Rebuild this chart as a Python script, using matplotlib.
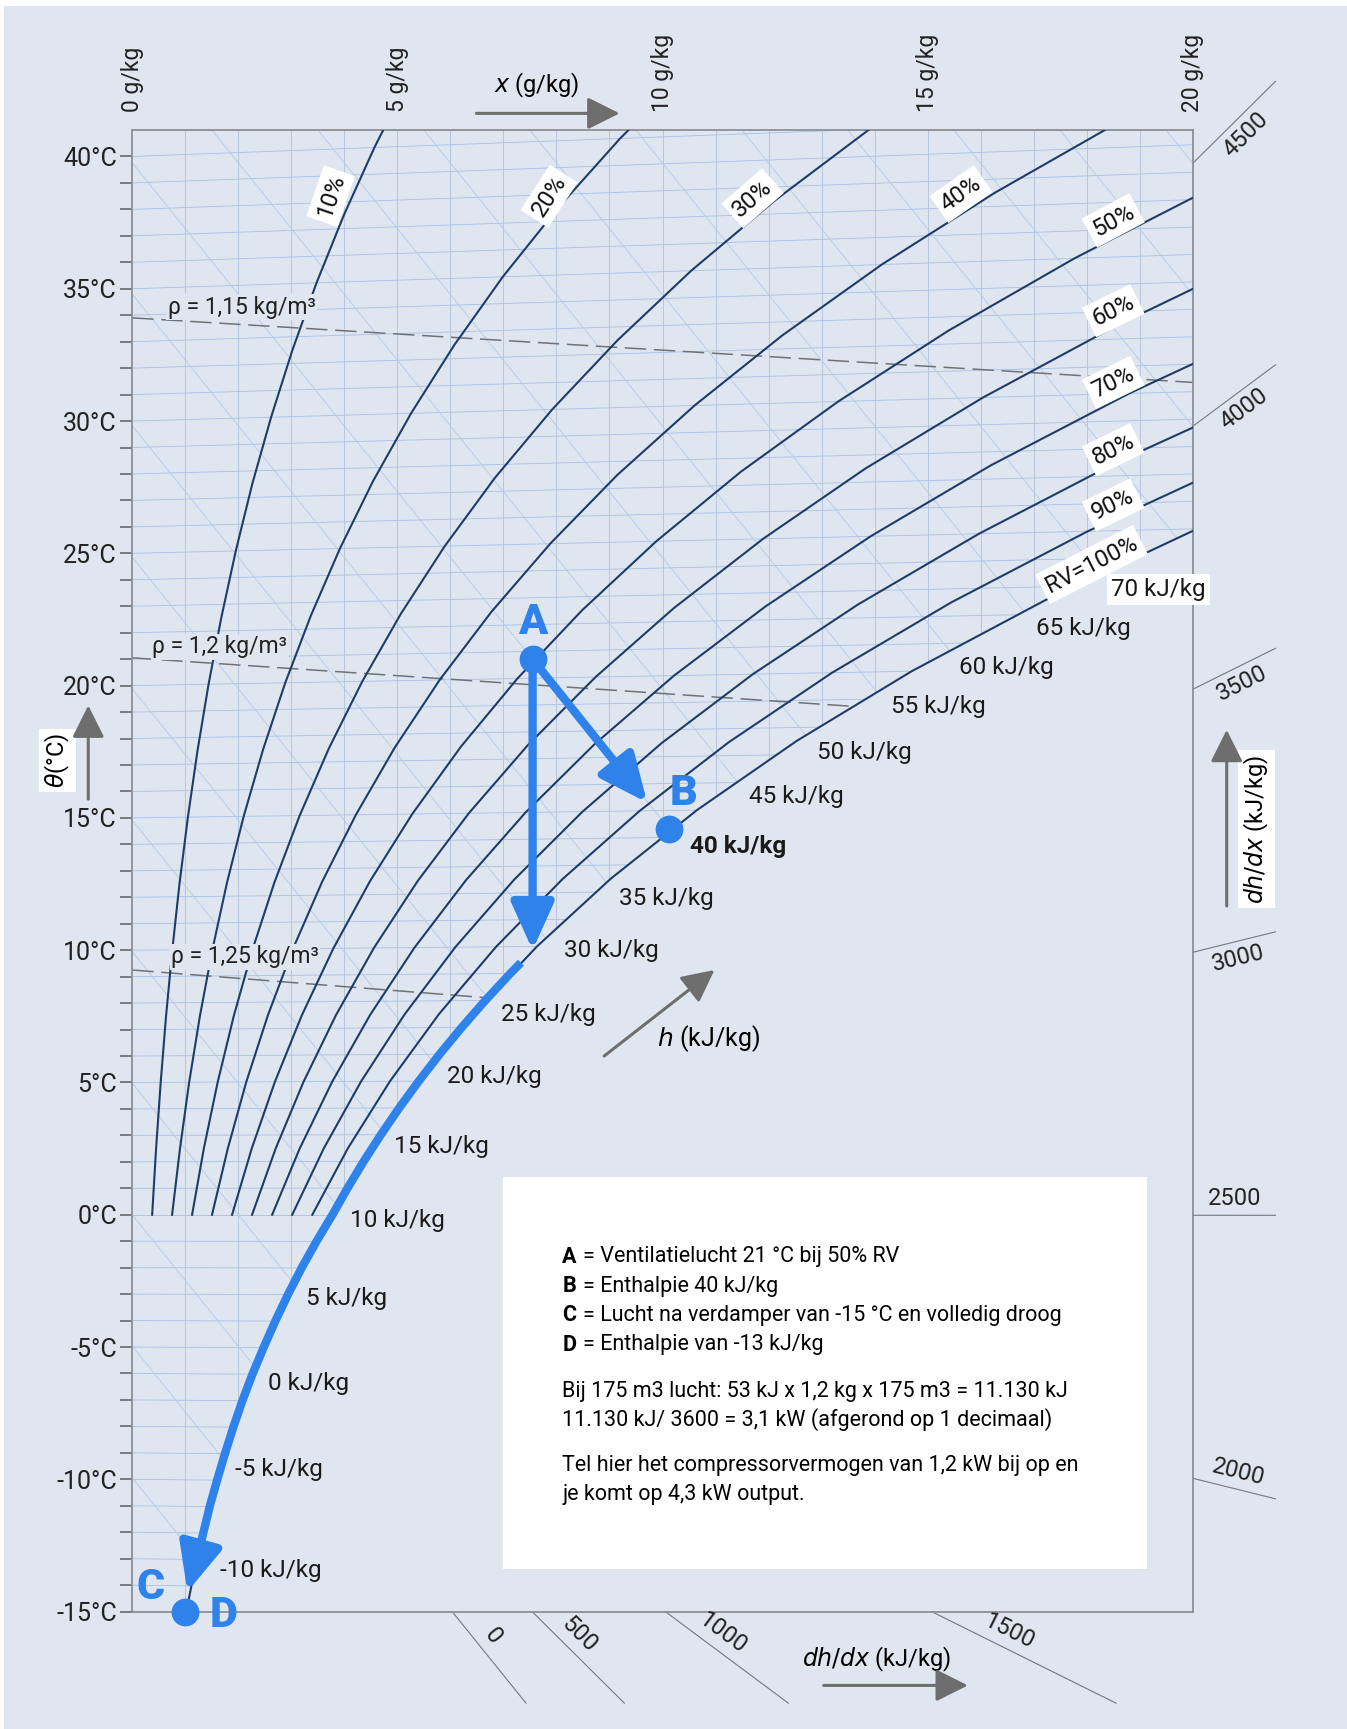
import math
import matplotlib.pyplot as plt
from matplotlib.patches import Polygon, Rectangle

plt.rcParams['font.family'] = ['Roboto', 'DejaVu Sans']

BG = '#dfe6f0'
NAVY = '#1f3c68'
BLUE = '#2f82ea'
GRAY = '#74787e'

# Mollier skew: chart height of an isotherm grows with moisture content
SKEW = 0.00185

# moisture content x (g/kg) of each RH curve, read at these temperatures
T_LEVELS = [0, 2.5, 5, 7.5, 10, 12.5, 15, 17.5, 20, 22.5, 25, 27.5, 30, 32.5, 35, 37.5, 40, 42.5]
X_RH10 = [0.375, 0.449, 0.536, 0.637, 0.755, 0.891, 1.049, 1.230, 1.439, 1.679, 1.952, 2.262, 2.618, 3.020, 3.475, 3.989, 4.566, 5.215]
X_RH20 = [0.751, 0.900, 1.073, 1.276, 1.512, 1.785, 2.101, 2.466, 2.885, 3.367, 3.916, 4.541, 5.258, 6.070, 6.988, 8.029, 9.200, 10.517]
X_RH30 = [1.128, 1.350, 1.611, 1.916, 2.270, 2.681, 3.157, 3.706, 4.338, 5.064, 5.893, 6.837, 7.920, 9.150, 10.541, 12.121, 13.903, 15.910]
X_RH40 = [1.504, 1.802, 2.150, 2.557, 3.031, 3.580, 4.217, 4.951, 5.797, 6.770, 7.882, 9.149, 10.605, 12.259, 14.135, 16.267, 18.677]
X_RH50 = [1.882, 2.254, 2.690, 3.199, 3.793, 4.482, 5.280, 6.201, 7.264, 8.486, 9.883, 11.478, 13.313, 15.400, 17.770, 20.468]
X_RH60 = [2.259, 2.706, 3.231, 3.843, 4.557, 5.386, 6.347, 7.456, 8.737, 10.211, 11.898, 13.825, 16.045, 18.572, 21.446]
X_RH70 = [2.638, 3.160, 3.772, 4.488, 5.323, 6.293, 7.417, 8.716, 10.217, 11.945, 13.925, 16.190, 18.800, 21.776]
X_RH80 = [3.016, 3.614, 4.315, 5.135, 6.091, 7.202, 8.491, 9.981, 11.704, 13.689, 15.966, 18.571, 21.579]
X_RH90 = [3.395, 4.068, 4.859, 5.782, 6.860, 8.114, 9.569, 11.252, 13.198, 15.443, 18.019, 20.971]
X_RH100 = [3.775, 4.524, 5.403, 6.432, 7.632, 9.028, 10.650, 12.527, 14.699, 17.206, 20.086]

# saturation over ice (below 0 °C)
T_ICE = [-15, -14, -13, -12, -11, -10, -9, -8, -7, -6, -5, -4, -3, -2, -1]
X_ICE = [1.016, 1.115, 1.223, 1.339, 1.460, 1.600, 1.748, 1.906, 2.077, 2.267, 2.476, 2.697, 2.936, 3.193, 3.474]

RH_LABELS = ['10%', '20%', '30%', '40%', '50%', '60%', '70%', '80%', '90%', 'RV=100%']
RH_LABEL_X = [3.74, 7.86, 11.70, 15.63, 18.50, 18.50, 18.50, 18.50, 18.50, 18.09]
RH_LABEL_Y = [38.50, 38.50, 38.42, 38.58, 37.58, 34.17, 31.46, 28.92, 26.83, 24.58]
RH_LABEL_ROT = [71, 57, 41, 35, 28, 26, 26, 26, 26, 27]

# enthalpy labels along the saturation curve
H_LABELS = [70, 65, 60, 55, 50, 45, 40, 35, 30, 25, 20, 15, 10, 5, 0, -5, -10]
H_LABEL_X = [18.46, 17.05, 15.59, 14.30, 12.91, 11.64, 10.52, 9.17, 8.15, 6.96, 5.93, 4.93, 4.10, 3.28, 2.56, 1.93, 1.66]
H_LABEL_Y = [23.62, 22.17, 20.67, 19.21, 17.46, 15.79, 13.92, 11.96, 10.00, 7.58, 5.21, 2.58, -0.21, -3.17, -6.38, -9.63, -13.46]

# density lines (chart coordinates of both ends)
RHO_LABELS = ['ρ = 1,15 kg/m³', 'ρ = 1,2 kg/m³', 'ρ = 1,25 kg/m³']
RHO_X0 = [0.0, 0.0, 0.0]
RHO_Y0 = [33.90, 21.05, 9.25]
RHO_X1 = [20.0, 13.64, 6.70]
RHO_Y1 = [31.46, 19.21, 8.20]
RHO_TEXT_X = [0.67, 0.37, 0.73]
RHO_TEXT_Y = [34.30, 21.46, 9.75]

# dh/dx protractor values
DHDX_RIGHT = [4500, 4000, 3500, 3000, 2500, 2000]
DHDX_BOTTOM = [0, 500, 1000, 1500]

# process points A, B, C/D and the cooling path along saturation
POINT_X = [7.55, 10.12, 1.00]
POINT_Y = [21.0, 14.58, -15.0]
A_TO_B_TIP = (9.71, 15.58)
A_DOWN_TIP = (7.55, 10.0)
PATH_T = [9.4, 9, 8, 7, 6, 5, 4, 3, 2, 1, 0, -1, -2, -3, -4, -5, -6, -7, -8, -9, -10, -11, -12, -12.5]
PATH_X = [7.33, 7.129, 6.657, 6.213, 5.795, 5.403, 5.034, 4.689, 4.364, 4.060, 3.775, 3.474,
          3.193, 2.936, 2.697, 2.476, 2.267, 2.077, 1.906, 1.748, 1.600, 1.460, 1.339, 1.278]
C_TIP = (1.04, -14.25)

LEGEND_KEYS = ['A', 'B', 'C', 'D']
LEGEND_TEXT = ['= Ventilatielucht 21 °C bij 50% RV',
               '= Enthalpie 40 kJ/kg',
               '= Lucht na verdamper van -15 °C en volledig droog',
               '= Enthalpie van -13 kJ/kg']
NOTE_LINES = ['Bij 175 m3 lucht: 53 kJ x 1,2 kg x 175 m3 = 11.130 kJ',
              '11.130 kJ/ 3600 = 3,1 kW (afgerond op 1 decimaal)',
              'Tel hier het compressorvermogen van 1,2 kW bij op en',
              'je komt op 4,3 kW output.']


def chart_y(t, x):
    return t * (1 + SKEW * x)


def h_line_y(h, x):
    return (h - 2.501 * x) / 1.006


def dhdx_slope(q):
    return (q / 1000 - 2.501) / 1.006


fig = plt.figure(figsize=(13.47, 17.29), dpi=100, facecolor='white')
fig.patches.append(Rectangle((4 / 1347, 0), 1, 1 - 6 / 1729, transform=fig.transFigure,
                             facecolor=BG, edgecolor='none', zorder=-10))
ax = fig.add_axes([0.0982, 0.0679, 0.7873, 0.8569])
ax.set_facecolor(BG)
ax.set_xlim(0, 20)
ax.set_ylim(-15, 41)

# saturation curve (ice + water) and clip region for the grid
sat_x = X_ICE + X_RH100
sat_t = T_ICE + T_LEVELS[:len(X_RH100)]
sat_y = [chart_y(t, x) for t, x in zip(sat_t, sat_x)]
clip_pts = [(0, -16), (sat_x[0], -16)] + list(zip(sat_x, sat_y)) + [(25, sat_y[-1]), (25, 45), (0, 45)]
clip = Polygon(clip_pts, closed=True, transform=ax.transData)

grid = []
for t in range(-15, 42):
    grid += ax.plot([0, 20], [t, chart_y(t, 20)], color='#a6c0e6', lw=0.6, zorder=1)
for x in range(1, 20):
    grid += ax.plot([x, x], [-15, 41], color='#b0c0d6', lw=0.6, zorder=1)
for h in range(-15, 95, 5):
    grid += ax.plot([0, 20], [h_line_y(h, 0), h_line_y(h, 20)], color='#b3cae9', lw=0.6, zorder=1)
for g in grid:
    g.set_clip_path(clip)

# density lines
for x0, y0, x1, y1, lab, tx, ty in zip(RHO_X0, RHO_Y0, RHO_X1, RHO_Y1, RHO_LABELS, RHO_TEXT_X, RHO_TEXT_Y):
    ax.plot([x0, x1], [y0, y1], color='#707276', lw=1.1, dashes=(14, 5), zorder=2)
    ax.text(tx, ty, lab, fontsize=16.5, color='#222222', ha='left', va='center', zorder=5,
            bbox=dict(facecolor=BG, edgecolor='none', pad=1))

# RH curves
curves = [X_RH10, X_RH20, X_RH30, X_RH40, X_RH50, X_RH60, X_RH70, X_RH80, X_RH90]
for xs in curves:
    ys = [chart_y(t, x) for t, x in zip(T_LEVELS, xs)]
    ax.plot(xs, ys, color=NAVY, lw=1.5, zorder=3)
ax.plot(sat_x, sat_y, color=NAVY, lw=1.5, zorder=3)

for lab, x, y, r in zip(RH_LABELS, RH_LABEL_X, RH_LABEL_Y, RH_LABEL_ROT):
    ax.text(x, y, lab, fontsize=17, rotation=r, ha='center', va='center', rotation_mode='anchor',
            color='#111111', zorder=6, bbox=dict(facecolor='white', edgecolor='none', pad=3.5))

for h, x, y in zip(H_LABELS, H_LABEL_X, H_LABEL_Y):
    kw = dict(fontsize=17.5, ha='left', va='center', color='#1a1a1a', zorder=6)
    if h == 40:
        kw['fontweight'] = 'bold'
    if h == 70:
        kw['bbox'] = dict(facecolor='white', edgecolor='none', pad=3)
    ax.text(x, y, f'{h} kJ/kg', **kw)

# text box
ax.add_patch(Rectangle((7.0, -13.375), 12.13, 14.8, facecolor='white', edgecolor='none', zorder=4))
leg_y = [-1.58, -2.71, -3.79, -4.92]
for k, txt, y in zip(LEGEND_KEYS, LEGEND_TEXT, leg_y):
    ax.text(8.11, y, k, fontsize=15.5, fontweight='bold', va='center', ha='left', zorder=5)
    ax.text(8.50, y, txt, fontsize=15.5, va='center', ha='left', zorder=5)
for txt, y in zip(NOTE_LINES, [-6.67, -7.75, -9.46, -10.58]):
    ax.text(8.11, y, txt, fontsize=15.5, va='center', ha='left', zorder=5)

# cooling path along saturation to C
py = [chart_y(t, x) for t, x in zip(PATH_T, PATH_X)]
ax.plot(PATH_X, py, color=BLUE, lw=6, solid_capstyle='butt', zorder=7)
blue_arrow = dict(arrowstyle='-|>,head_length=0.8,head_width=0.36', mutation_scale=36,
                  lw=6, color=BLUE, shrinkA=0, shrinkB=0)
ax.annotate('', xy=C_TIP, xytext=(PATH_X[-1], py[-1]), arrowprops=blue_arrow, zorder=7)
ax.annotate('', xy=A_DOWN_TIP, xytext=(POINT_X[0], POINT_Y[0]), arrowprops=blue_arrow, zorder=7)
ax.annotate('', xy=A_TO_B_TIP, xytext=(POINT_X[0], POINT_Y[0]), arrowprops=blue_arrow, zorder=7)
ax.plot(POINT_X, POINT_Y, 'o', color=BLUE, ms=19, zorder=8, clip_on=False)
for lab, x, y in [('A', 7.55, 22.38), ('B', 10.4, 15.92), ('C', 0.35, -14.08), ('D', 1.73, -15.13)]:
    ax.text(x, y, lab, fontsize=31, fontweight='heavy', color=BLUE, ha='center', va='center',
            zorder=8, clip_on=False)

# axes styling
ax.set_yticks(range(-15, 41, 5))
ax.set_yticklabels([f'{t}°C' for t in range(-15, 41, 5)])
ax.set_yticks(range(-15, 41), minor=True)
ax.tick_params(axis='y', which='both', direction='out', length=9, width=1.3, color='#6f7378',
               labelsize=18, pad=2, labelcolor='#222222')
ax.xaxis.tick_top()
ax.set_xticks([0, 5, 10, 15, 20])
ax.set_xticklabels([f'{v} g/kg' for v in [0, 5, 10, 15, 20]])
ax.tick_params(axis='x', length=0, labelsize=16.5, pad=13, labelrotation=90, labelcolor='#222222')
for s in ax.spines.values():
    s.set_color('#8c9096')
    s.set_linewidth(1.3)


def disp_angle(x0, y0, x1, y1):
    (a, b), (c, d) = ax.transData.transform([(x0, y0), (x1, y1)])
    return math.degrees(math.atan2(d - b, c - a))


# dh/dx protractor
for q in DHDX_RIGHT:
    s = dhdx_slope(q)
    x0, y0 = 20, 20 * s
    x1, y1 = 21.56, y0 + 1.56 * s
    ax.plot([x0, x1], [y0, y1], color=GRAY, lw=0.8, clip_on=False)
    ang = disp_angle(x0, y0, x1, y1)
    r = math.radians(ang)
    sign = 1 if q <= 2500 else -1
    off = (-math.sin(r) * 12 * sign, math.cos(r) * 12 * sign)
    ax.annotate(str(q), xy=((x0 + x1) / 2, (y0 + y1) / 2), xytext=off, textcoords='offset points',
                rotation=ang, rotation_mode='anchor', ha='center', va='center', fontsize=17,
                color='#222222', annotation_clip=False)
for q in DHDX_BOTTOM:
    s = dhdx_slope(q)
    x0, y0 = -15 / s, -15
    x1, y1 = x0 - 3.46 / s, -18.46
    ax.plot([x0, x1], [y0, y1], color=GRAY, lw=0.8, clip_on=False)
    ang = disp_angle(x0, y0, x1, y1)
    r = math.radians(ang)
    off = (-math.sin(r) * 12, math.cos(r) * 12)
    fx = 0.38
    ax.annotate(str(q), xy=(x0 + fx * (x1 - x0), y0 + fx * (y1 - y0)), xytext=off,
                textcoords='offset points', rotation=ang, rotation_mode='anchor', ha='center',
                va='center', fontsize=17, color='#222222', annotation_clip=False)

# axis titles with arrows
arrow_kw = dict(arrowstyle='-|>,head_length=0.9,head_width=0.45', mutation_scale=22, lw=2.2,
                color='#6e6e6e', shrinkA=0, shrinkB=0)
ax.text(-1.41, 17.17, r'$\theta$(°C)', rotation=90, fontsize=17, ha='center', va='center',
        clip_on=False, bbox=dict(facecolor='white', edgecolor='none', pad=3))
ax.annotate('', xy=(-0.83, 19.25), xytext=(-0.83, 15.71), arrowprops=arrow_kw, annotation_clip=False)
ax.text(7.63, 42.67, r'$x$ (g/kg)', fontsize=17, ha='center', va='center', clip_on=False)
ax.annotate('', xy=(9.19, 41.63), xytext=(6.49, 41.63), arrowprops=arrow_kw, annotation_clip=False)
ax.text(10.87, 6.67, r'$h$ (kJ/kg)', fontsize=18, ha='center', va='center', zorder=6)
ax.annotate('', xy=(10.98, 9.25), xytext=(8.9, 6.0), arrowprops=arrow_kw)
ax.text(21.2, 14.58, r'$dh/dx$ (kJ/kg)', rotation=90, fontsize=17, ha='center', va='center',
        clip_on=False, bbox=dict(facecolor='white', edgecolor='none', pad=3))
ax.annotate('', xy=(20.64, 18.33), xytext=(20.64, 11.67), arrowprops=arrow_kw, annotation_clip=False)
ax.text(14.03, -16.79, r'$dh/dx$ (kJ/kg)', fontsize=17, ha='center', va='center', clip_on=False)
ax.annotate('', xy=(15.76, -17.79), xytext=(13.04, -17.79), arrowprops=arrow_kw, annotation_clip=False)

fig.savefig('out.png', dpi=100, facecolor=fig.get_facecolor())
